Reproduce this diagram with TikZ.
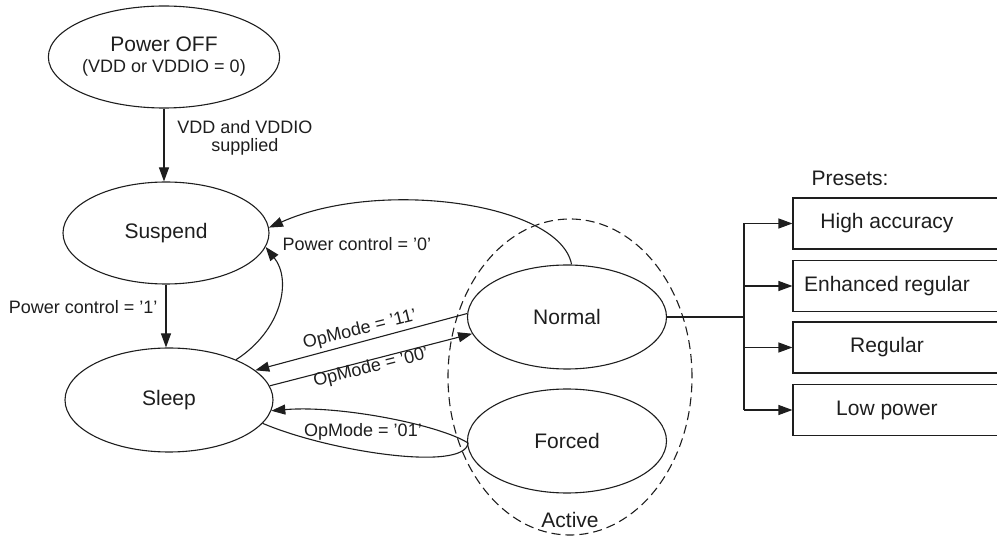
\documentclass[tikz,border=0pt]{standalone}
\usepackage{fontspec}
\setmainfont{Liberation Sans}
\usetikzlibrary{shapes.geometric,arrows.meta}
\definecolor{ink}{HTML}{1E1E1E}
\tikzset{
  big/.style={font=\fontsize{21}{24}\selectfont, text=ink},
  small/.style={font=\fontsize{18}{21}\selectfont, text=ink},
  state/.style={ellipse, draw=ink, line width=1.1pt, inner sep=0pt, big, align=center},
  presetbox/.style={rectangle, draw=ink, line width=1.1pt, minimum width=230pt, minimum height=51pt, inner sep=0pt},
  arr/.style={draw=ink, line width=1.1pt, -{Triangle[length=14pt,width=10pt]}},
  ln/.style={draw=ink, line width=1.1pt},
}
\begin{document}
\begin{tikzpicture}[x=1pt,y=-1pt]
\useasboundingbox (0,0) rectangle (997,537);
% states
\node[state, minimum width=208pt, minimum height=102pt] (off) at (164,57)
  {Power OFF\\[-3pt]{\fontsize{18}{21}\selectfont (VDD or VDDIO = 0)}};
\node[state, minimum width=206pt, minimum height=102pt] (suspend) at (166,233) {Suspend};
\node[state, minimum width=208pt, minimum height=104pt] (sleep) at (169,400) {Sleep};
\node[ellipse, draw=ink, line width=1.1pt, dash pattern=on 9pt off 5pt,
      minimum width=244pt, minimum height=316pt, inner sep=0pt] (active) at (570,377) {};
\node[state, fill=white, minimum width=199pt, minimum height=104pt] (normal) at (567,317) {Normal};
\node[state, fill=white, minimum width=199pt, minimum height=104pt] (forced) at (567,441) {Forced};
\node[big] (activelbl) at (570,520) {Active};
% presets
\node[big, anchor=west] (presets) at (808,178) {Presets:};
\node[presetbox] (p1) at (908,223.5) {};
\node[presetbox] (p2) at (908,286) {};
\node[presetbox] (p3) at (908,347.5) {};
\node[presetbox] (p4) at (908,410) {};
\node[big] (t1) at (887,223.5) {High accuracy};
\node[big] (t2) at (887,286) {Enhanced regular};
\node[big] (t3) at (887,347.5) {Regular};
\node[big] (t4) at (887,410) {Low power};
\coordinate (branch) at (744,317);
\coordinate (b1) at (744,223.5);
\coordinate (b4) at (744,410);
\draw[ln] (normal.east) -- (branch);
\draw[ln] (b1) -- (b4);
\draw[arr] (b1) -- (p1.west);
\draw[arr] (branch |- p2.west) -- (p2.west);
\draw[arr] (branch |- p3.west) -- (p3.west);
\draw[arr] (b4) -- (p4.west);
% transitions
\draw[arr] (off.south) -- (off.south |- suspend.north);
\node[small, align=center] (l1) at (245,138) {VDD and VDDIO\\[-3pt]supplied};
\draw[arr] (suspend.south) -- (suspend.south |- sleep.north);
\node[small, anchor=east] (l2) at (161,307) {Power control = '1'};
\draw[arr] (sleep.31) .. controls (282,330) and (292,280) .. (suspend.-8);
\draw[arr] (normal.85) .. controls (560,203) and (380,178) .. (suspend.3);
\node[small, anchor=west] (l3) at (279,244) {Power control = '0'};
\draw[arr] (normal.178) -- (sleep.19);
\draw[arr] (sleep.8) -- (normal.190);
\node[small, rotate=14] (l4) at (360,330) {OpMode = '11'};
\node[small, rotate=14] (l5) at (371,368) {OpMode = '00'};
\coordinate (tip) at (468,443);
\draw[arr] (sleep.-14) .. controls (330,452) and (465,472) .. (tip)
  .. controls (440,425) and (340,405) .. (sleep.-6);
\node[small] (l6) at (363,432) {OpMode = '01'};
\end{tikzpicture}
\end{document}
